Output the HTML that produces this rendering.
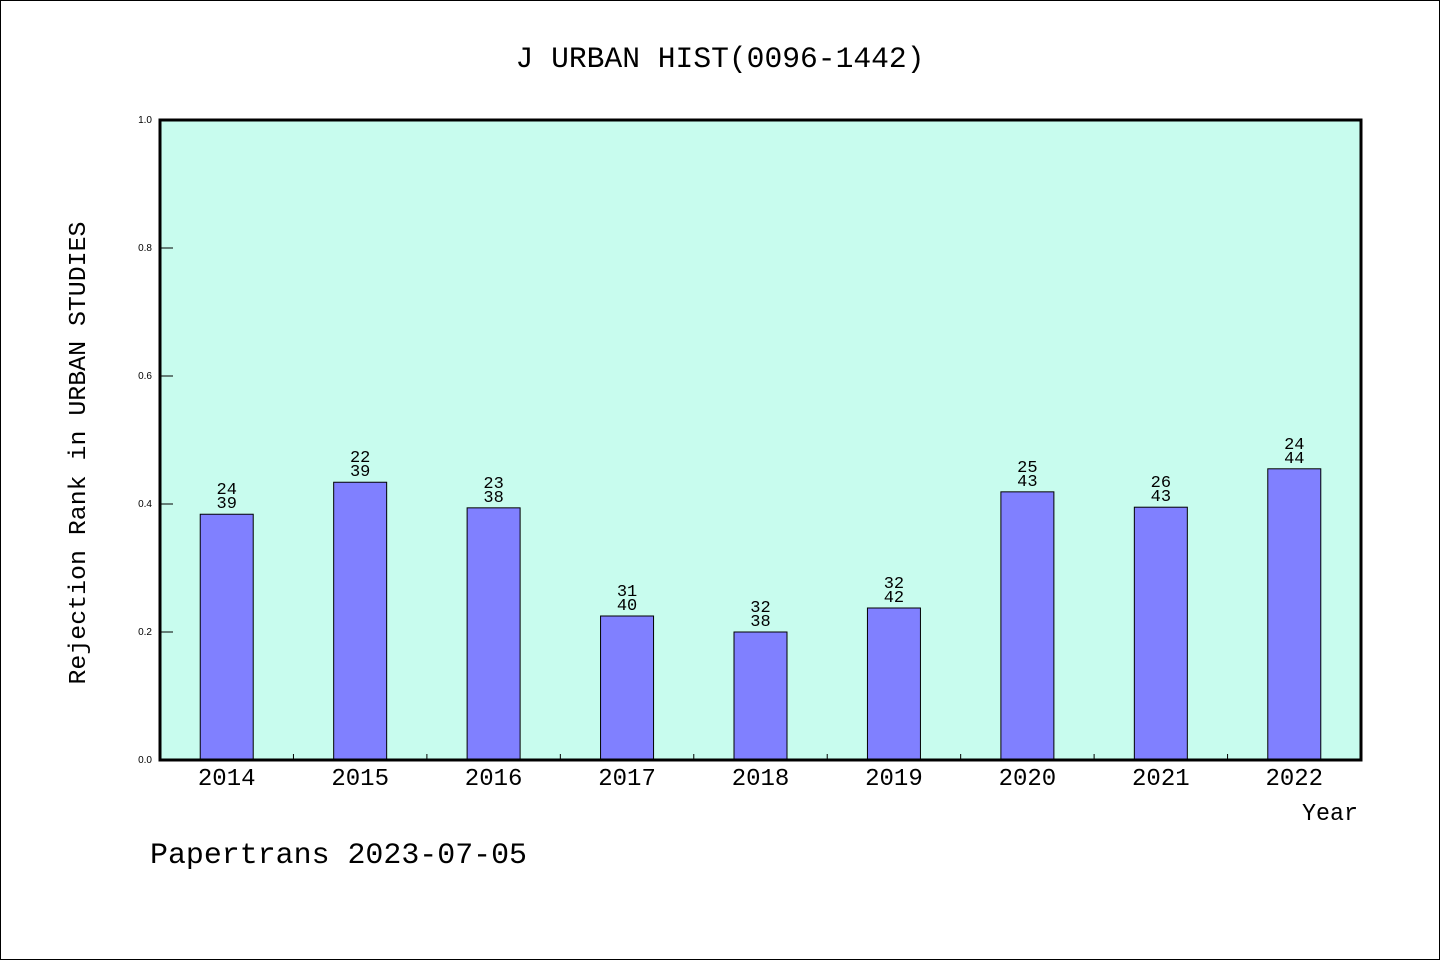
<!DOCTYPE html>
<html><head><meta charset="utf-8"><style>
body{margin:0;background:#fff}
svg{display:block}
text{font-family:"Liberation Mono","WenQuanYi Zen Hei",monospace;fill:#000}
</style></head><body>
<svg id="c" width="1440" height="960">
<rect x="0.5" y="0.5" width="1439" height="959" fill="#fff" stroke="#000"/>
<text x="720" y="67" font-size="30" text-anchor="middle" textLength="409" lengthAdjust="spacingAndGlyphs">J URBAN HIST(0096-1442)</text>
<rect x="160" y="120" width="1201" height="640" fill="#c8fcee"/>
<g id="bars"></g>
<rect x="160" y="120" width="1201" height="640" fill="none" stroke="#000" stroke-width="3"/>
<text transform="translate(85,453) rotate(-90)" font-size="24" text-anchor="middle" textLength="463" lengthAdjust="spacingAndGlyphs">Rejection Rank in URBAN STUDIES</text>
<text x="1358" y="820" font-size="24" text-anchor="end" textLength="56" lengthAdjust="spacingAndGlyphs">Year</text>
<text x="150" y="863" font-size="30" textLength="377" lengthAdjust="spacingAndGlyphs">Papertrans 2023-07-05</text>
</svg>
<script>
const years=["2014","2015","2016","2017","2018","2019","2020","2021","2022"];
const values=[0.384,0.434,0.394,0.225,0.2,0.2375,0.419,0.395,0.455];
const ranks=["24","22","23","31","32","32","25","26","24"];
const totals=["39","39","38","40","38","42","43","43","44"];
const yTicks=[0,0.2,0.4,0.6,0.8,1.0];
const NS="http://www.w3.org/2000/svg";
const svg=document.getElementById('c'),g=document.getElementById('bars');
const x0=160,x1=1361,y0=760,y1=120;
const bw=(x1-x0)/years.length;
const xc=i=>x0+bw*(i+0.5);
const y=v=>y0-(y0-y1)*v;
function mk(t,a,p){const e=document.createElementNS(NS,t);for(const k in a)e.setAttribute(k,a[k]);(p||g).appendChild(e);return e;}
years.forEach((yr,i)=>{
 const r=mk('rect',{x:xc(i)-26.5,y:y(values[i]),width:53,height:y0-y(values[i]),fill:'#8080ff',stroke:'#000','stroke-width':1});
 
 
 const t1=mk('text',{x:xc(i),y:y(values[i])-20,'font-size':17,'text-anchor':'middle'});t1.textContent=ranks[i];
 
 
 const t2=mk('text',{x:xc(i),y:y(values[i])-6,'font-size':17,'text-anchor':'middle'});t2.textContent=totals[i];
 
 
 const xl=mk('text',{x:xc(i),y:785,'font-size':24,'text-anchor':'middle'},svg);xl.textContent=yr;
 
 
 if(i>0){const tk=mk('line',{x1:x0+bw*i,x2:x0+bw*i,y1:760,y2:754,stroke:'#000'},svg);
 
 }
});
yTicks.forEach(v=>{
 const l=mk('line',{x1:160,x2:173,y1:y(v),y2:y(v),stroke:'#000'},svg);
 
 
 const t=mk('text',{x:152,y:y(v)+3,'font-size':10,'text-anchor':'end',style:'font-family:"Liberation Sans",sans-serif'},svg);t.textContent=v.toFixed(1);
 
 
});
</script>
</body></html>
